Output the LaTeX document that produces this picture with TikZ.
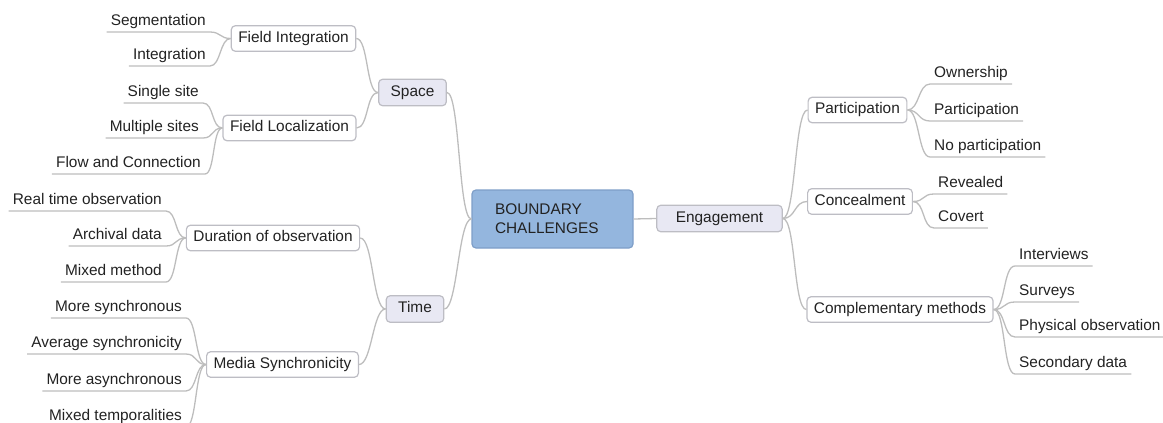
\documentclass[tikz,border=0pt]{standalone}
\usepackage{fontspec}
\setmainfont{Liberation Sans}
\usetikzlibrary{positioning}
\definecolor{rootblue}{HTML}{94B6DE}
\definecolor{rootline}{HTML}{7E9EC8}
\definecolor{lavender}{HTML}{E8E8F3}
\definecolor{boxline}{HTML}{BDBDC4}
\definecolor{linegray}{HTML}{BDBDBD}
\definecolor{textgray}{HTML}{222222}
\begin{document}
\begin{tikzpicture}[x=1pt,y=-1pt,font=\fontsize{15.4}{19}\selectfont,text=textgray,
    root/.style={draw=rootline,fill=rootblue,rounded corners=4pt,line width=1.2pt,
      minimum height=58pt,text width=115pt,inner xsep=23pt,align=left},
    topic/.style={draw=boxline,fill=lavender,rounded corners=4pt,line width=1.2pt,
      text height=11pt,text depth=3.5pt,inner ysep=6pt,inner xsep=12pt},
    sub/.style={draw=boxline,fill=white,rounded corners=4pt,line width=1.2pt,
      text height=11pt,text depth=3.5pt,inner ysep=5.5pt,inner xsep=7pt},
    leaf/.style={text height=11pt,text depth=3.5pt,inner ysep=3pt,inner xsep=4pt},
    branch/.style={draw=linegray,line width=1.3pt}]
  \useasboundingbox (0,0) rectangle (1163,423);

  % centre and main topics
  \node[root] (root) at (552.5,219) {BOUNDARY\\CHALLENGES};
  \node[topic,inner xsep=19pt] (eng) at (719.5,218.5) {Engagement};
  \node[topic] (space) at (412.5,92.5) {Space};
  \node[topic] (time) at (415,309) {Time};

  % sub topics
  \node[sub] (fint) at (293.5,38.5) {Field Integration};
  \node[sub] (floc) at (289.5,128) {Field Localization};
  \node[sub] (dur) at (273,238) {Duration of observation};
  \node[sub] (media) at (282.5,364.5) {Media Synchronicity};
  \node[sub] (part) at (857.5,110) {Participation};
  \node[sub] (conc) at (860,201.5) {Concealment};
  \node[sub] (comp) at (900,309.5) {Complementary methods};

  % leaves, left
  \node[leaf,anchor=south east] (seg) at (210,32) {Segmentation};
  \node[leaf,anchor=south east] (integ) at (210,66) {Integration};
  \node[leaf,anchor=south east] (single) at (203,103) {Single site};
  \node[leaf,anchor=south east] (multi) at (203,138) {Multiple sites};
  \node[leaf,anchor=south east] (flow) at (205,174) {Flow and Connection};
  \node[leaf,anchor=south east] (real) at (166,211) {Real time observation};
  \node[leaf,anchor=south east] (arch) at (166,246) {Archival data};
  \node[leaf,anchor=south east] (mixm) at (166,282) {Mixed method};
  \node[leaf,anchor=south east] (msync) at (186,318) {More synchronous};
  \node[leaf,anchor=south east] (avg) at (186,354) {Average synchronicity};
  \node[leaf,anchor=south east] (masync) at (186,391) {More asynchronous};
  \node[leaf,anchor=south east] (mixt) at (186,427) {Mixed temporalities};

  % leaves, right
  \node[leaf,anchor=south west] (own) at (930,84) {Ownership};
  \node[leaf,anchor=south west] (ppart) at (930,121) {Participation};
  \node[leaf,anchor=south west] (nopart) at (930,157) {No participation};
  \node[leaf,anchor=south west] (rev) at (934,194) {Revealed};
  \node[leaf,anchor=south west] (cov) at (934,228) {Covert};
  \node[leaf,anchor=south west] (intv) at (1015,266) {Interviews};
  \node[leaf,anchor=south west] (surv) at (1015,302) {Surveys};
  \node[leaf,anchor=south west] (phys) at (1015,337) {Physical observation};
  \node[leaf,anchor=south west] (secd) at (1015,374) {Secondary data};

  % branches
  \draw[branch] (root.east) -- (eng.west);
  \draw[branch] (root.west) .. controls +(-13,0) and +(13,0) .. (space.east);
  \draw[branch] (root.west) .. controls +(-13,0) and +(13,0) .. (time.east);
  \draw[branch] (space.west) .. controls +(-12,0) and +(12,0) .. (fint.east);
  \draw[branch] (space.west) .. controls +(-12,0) and +(12,0) .. (floc.east);
  \draw[branch] (time.west) .. controls +(-13,0) and +(13,0) .. (dur.east);
  \draw[branch] (time.west) .. controls +(-13,0) and +(13,0) .. (media.east);
  \draw[branch] (eng.east) .. controls +(13,0) and +(-13,0) .. (part.west);
  \draw[branch] (eng.east) .. controls +(13,0) and +(-13,0) .. (conc.west);
  \draw[branch] (eng.east) .. controls +(13,0) and +(-13,0) .. (comp.west);

  \draw[branch] (seg.south west) -- (seg.south east) .. controls +(11,0) and +(-11,0) .. (fint.west);
  \draw[branch] (integ.south west) -- (integ.south east) .. controls +(11,0) and +(-11,0) .. (fint.west);
  \draw[branch] (single.south west) -- (single.south east) .. controls +(11,0) and +(-11,0) .. (floc.west);
  \draw[branch] (multi.south west) -- (multi.south east) .. controls +(11,0) and +(-11,0) .. (floc.west);
  \draw[branch] (flow.south west) -- (flow.south east) .. controls +(10,0) and +(-10,0) .. (floc.west);
  \draw[branch] (real.south west) -- (real.south east) .. controls +(11,0) and +(-11,0) .. (dur.west);
  \draw[branch] (arch.south west) -- (arch.south east) .. controls +(11,0) and +(-11,0) .. (dur.west);
  \draw[branch] (mixm.south west) -- (mixm.south east) .. controls +(11,0) and +(-11,0) .. (dur.west);
  \draw[branch] (msync.south west) -- (msync.south east) .. controls +(11,0) and +(-11,0) .. (media.west);
  \draw[branch] (avg.south west) -- (avg.south east) .. controls +(11,0) and +(-11,0) .. (media.west);
  \draw[branch] (masync.south west) -- (masync.south east) .. controls +(11,0) and +(-11,0) .. (media.west);
  \draw[branch] (mixt.south west) -- (mixt.south east) .. controls +(11,0) and +(-11,0) .. (media.west);

  \draw[branch] (part.east) .. controls +(12,0) and +(-12,0) .. (own.south west) -- (own.south east);
  \draw[branch] (part.east) .. controls +(12,0) and +(-12,0) .. (ppart.south west) -- (ppart.south east);
  \draw[branch] (part.east) .. controls +(12,0) and +(-12,0) .. (nopart.south west) -- (nopart.south east);
  \draw[branch] (conc.east) .. controls +(12,0) and +(-12,0) .. (rev.south west) -- (rev.south east);
  \draw[branch] (conc.east) .. controls +(12,0) and +(-12,0) .. (cov.south west) -- (cov.south east);
  \draw[branch] (comp.east) .. controls +(12,0) and +(-12,0) .. (intv.south west) -- (intv.south east);
  \draw[branch] (comp.east) .. controls +(12,0) and +(-12,0) .. (surv.south west) -- (surv.south east);
  \draw[branch] (comp.east) .. controls +(12,0) and +(-12,0) .. (phys.south west) -- (phys.south east);
  \draw[branch] (comp.east) .. controls +(12,0) and +(-12,0) .. (secd.south west) -- (secd.south east);
\end{tikzpicture}
\end{document}
